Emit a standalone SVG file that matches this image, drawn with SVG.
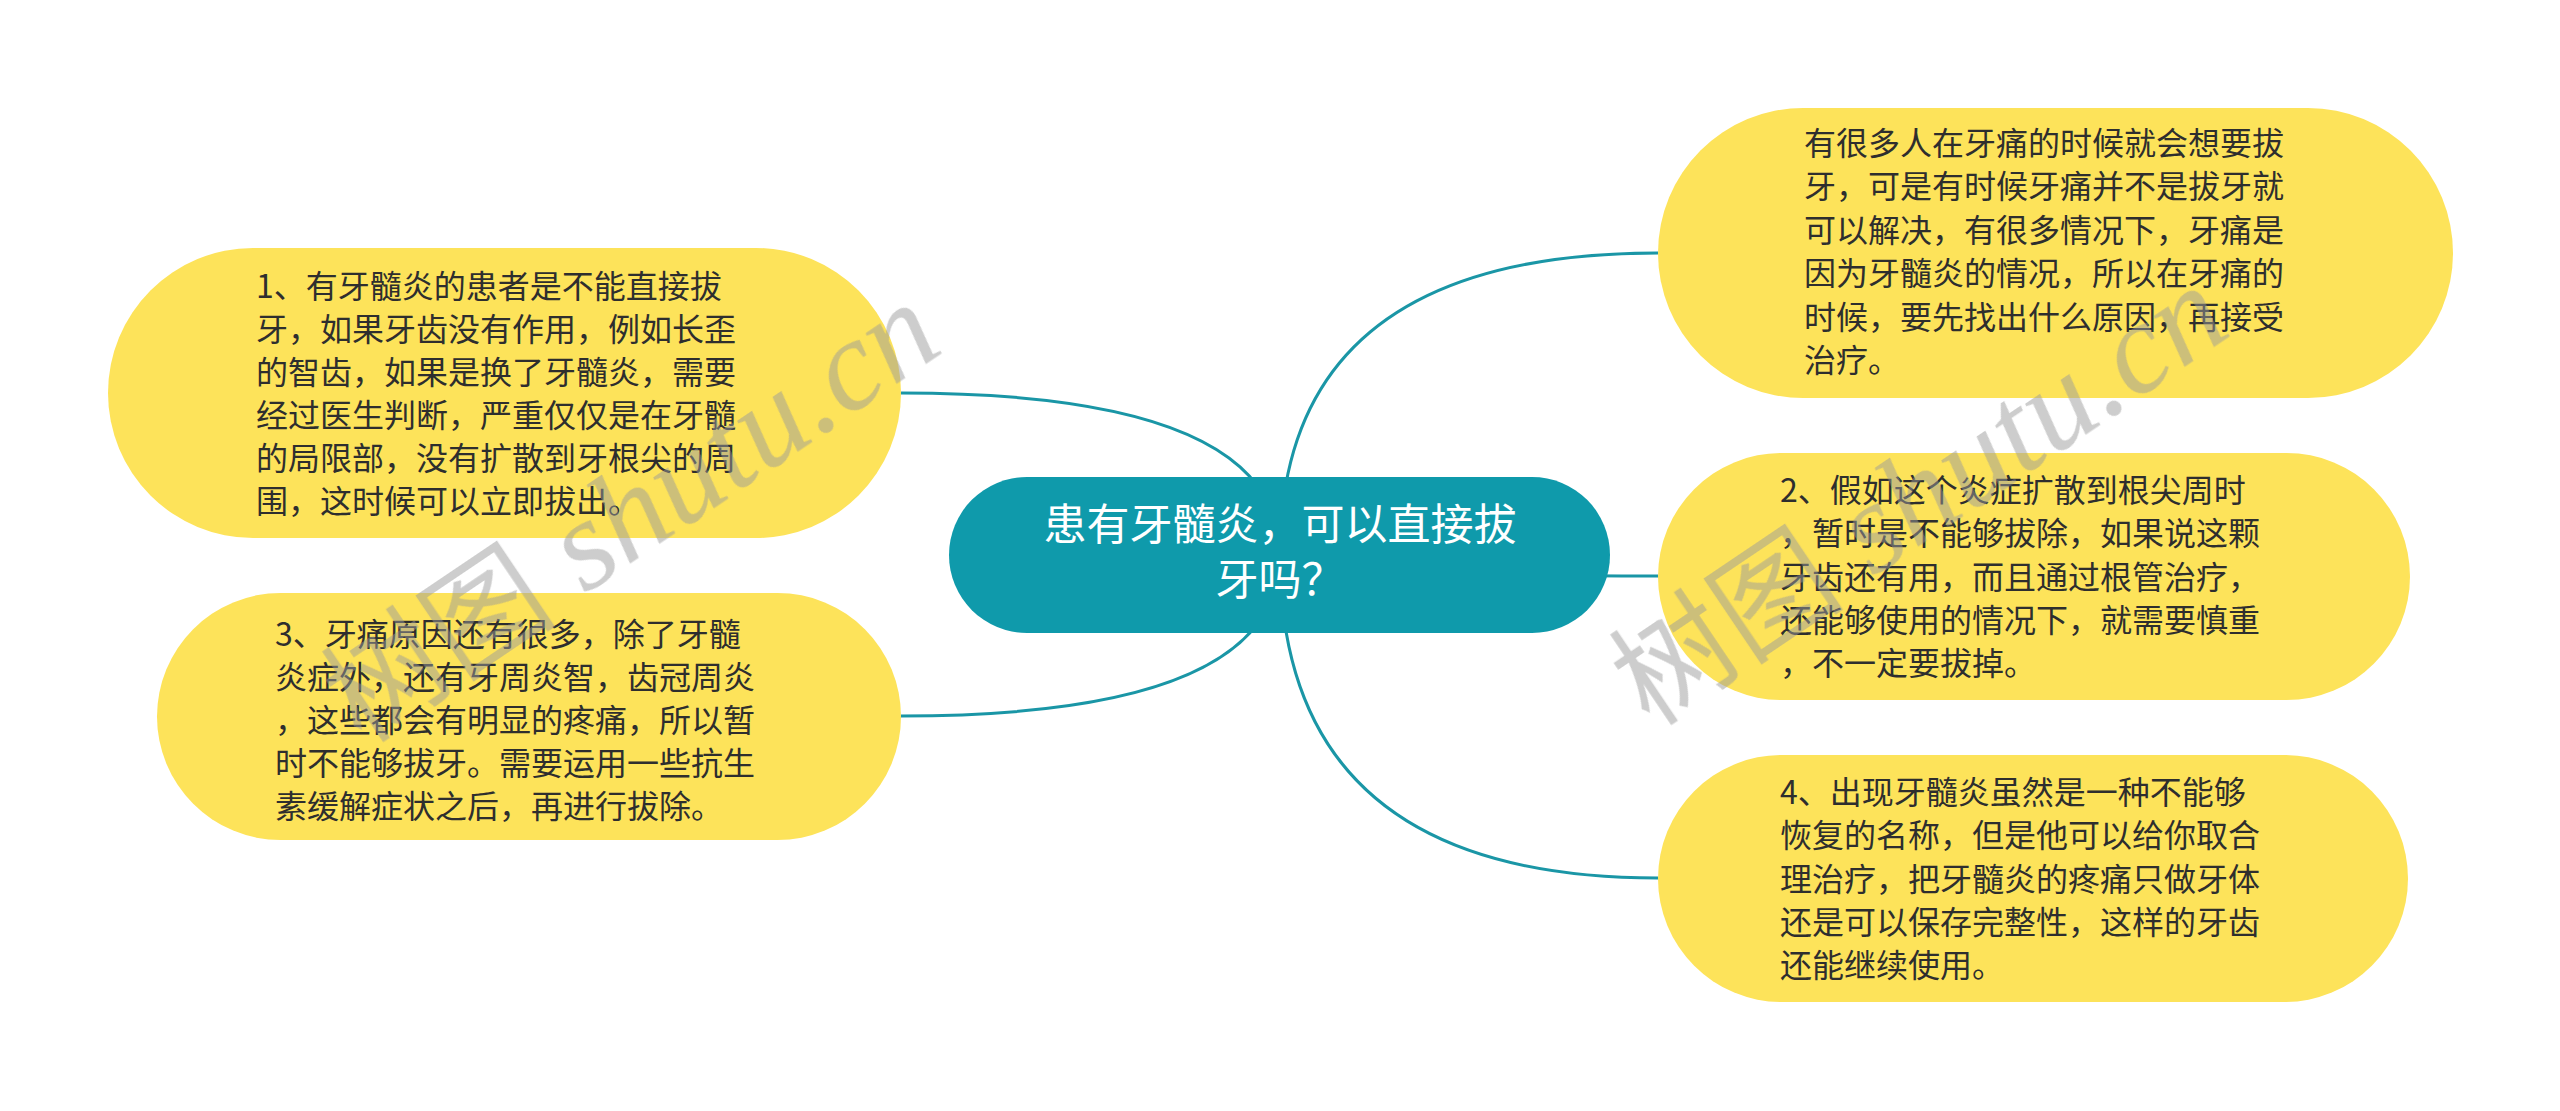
<svg xmlns="http://www.w3.org/2000/svg" width="2560" height="1111" viewBox="0 0 2560 1111">
<style>
.bg{fill:#ffffff}
.conn{fill:none;stroke:#1a96a6;stroke-width:3}
.root{fill:#0f9aab}
.leaf{fill:#fde35a}
.rt{font-family:"Noto Sans CJK SC","Noto Sans",sans-serif;font-size:43px;fill:#ffffff;text-anchor:middle}
.lt{font-family:"Noto Sans CJK SC","Noto Sans",sans-serif;font-size:32px;fill:#2e2e2e}
.wm{fill:#9a9a9a;opacity:0.5}
.wmc{font-family:"Noto Sans CJK SC",sans-serif;font-size:118px}
.wml{font-family:"Liberation Serif",serif;font-style:italic;font-size:130px}
</style>
<rect class="bg" x="0" y="0" width="2560" height="1111"/>
<g id="connectors">
<path class="conn" d="M901,393 Q1280,393 1280,555"/>
<path class="conn" d="M901,716 Q1280,716 1280,555"/>
<path class="conn" d="M1658,253 Q1280,253 1280,555"/>
<path class="conn" d="M1658,576 Q1280,576 1280,555"/>
<path class="conn" d="M1658,878 Q1280,878 1280,555"/>
</g>
<g id="root">
<rect class="root" x="949" y="477" width="661" height="156" rx="78"/>
<text class="rt" x="1280" y="540">患有牙髓炎，可以直接拔</text>
<text class="rt" x="1280" y="595">牙吗？</text>
</g>
<g id="node1">
<rect class="leaf" x="108" y="248" width="793" height="290" rx="145"/>
<text class="lt" x="256" y="298">1、有牙髓炎的患者是不能直接拔</text>
<text class="lt" x="256" y="341">牙，如果牙齿没有作用，例如长歪</text>
<text class="lt" x="256" y="384">的智齿，如果是换了牙髓炎，需要</text>
<text class="lt" x="256" y="427">经过医生判断，严重仅仅是在牙髓</text>
<text class="lt" x="256" y="470">的局限部，没有扩散到牙根尖的周</text>
<text class="lt" x="256" y="513">围，这时候可以立即拔出。</text>
</g>
<g id="node3">
<rect class="leaf" x="157" y="593" width="744" height="247" rx="123.5"/>
<text class="lt" x="275" y="646">3、牙痛原因还有很多，除了牙髓</text>
<text class="lt" x="275" y="689">炎症外，还有牙周炎智，齿冠周炎</text>
<text class="lt" x="275" y="732">，这些都会有明显的疼痛，所以暂</text>
<text class="lt" x="275" y="775">时不能够拔牙。需要运用一些抗生</text>
<text class="lt" x="275" y="818">素缓解症状之后，再进行拔除。</text>
</g>
<g id="node0">
<rect class="leaf" x="1658" y="108" width="795" height="290" rx="145"/>
<text class="lt" x="1804" y="155">有很多人在牙痛的时候就会想要拔</text>
<text class="lt" x="1804" y="198">牙，可是有时候牙痛并不是拔牙就</text>
<text class="lt" x="1804" y="242">可以解决，有很多情况下，牙痛是</text>
<text class="lt" x="1804" y="285">因为牙髓炎的情况，所以在牙痛的</text>
<text class="lt" x="1804" y="329">时候，要先找出什么原因，再接受</text>
<text class="lt" x="1804" y="372">治疗。</text>
</g>
<g id="node2">
<rect class="leaf" x="1658" y="453" width="752" height="247" rx="123.5"/>
<text class="lt" x="1780" y="502">2、假如这个炎症扩散到根尖周时</text>
<text class="lt" x="1780" y="545">，暂时是不能够拔除，如果说这颗</text>
<text class="lt" x="1780" y="589">牙齿还有用，而且通过根管治疗，</text>
<text class="lt" x="1780" y="632">还能够使用的情况下，就需要慎重</text>
<text class="lt" x="1780" y="675">，不一定要拔掉。</text>
</g>
<g id="node4">
<rect class="leaf" x="1658" y="755" width="750" height="247" rx="123.5"/>
<text class="lt" x="1780" y="804">4、出现牙髓炎虽然是一种不能够</text>
<text class="lt" x="1780" y="847">恢复的名称，但是他可以给你取合</text>
<text class="lt" x="1780" y="891">理治疗，把牙髓炎的疼痛只做牙体</text>
<text class="lt" x="1780" y="934">还是可以保存完整性，这样的牙齿</text>
<text class="lt" x="1780" y="977">还能继续使用。</text>
</g>
<g id="watermarks" class="wm">
<text transform="translate(362,745) rotate(-34)"><tspan class="wmc">树图</tspan><tspan class="wml"> shutu.cn</tspan></text>
<text transform="translate(1650,728) rotate(-34)"><tspan class="wmc">树图</tspan><tspan class="wml"> shutu.cn</tspan></text>
</g>
</svg>
